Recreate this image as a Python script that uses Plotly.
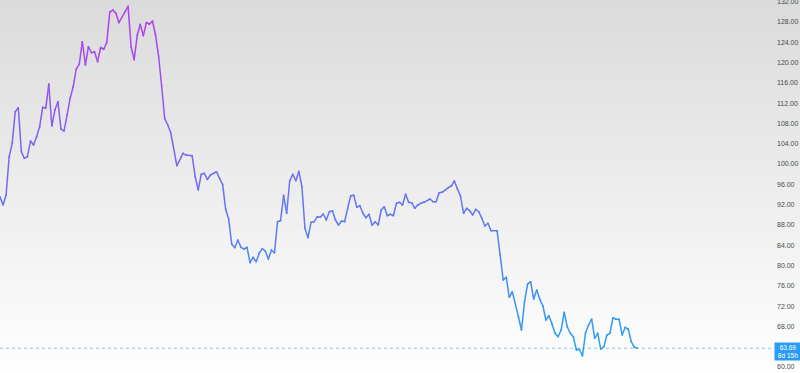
import plotly.graph_objects as go

# ---- data ----
day = [0, 1, 2, 3, 4, 5, 6, 7, 8, 9, 10, 11, 12, 13, 14, 15, 16, 17, 18, 19,
       20, 21, 22, 23, 24, 25, 26, 27, 28, 29, 30, 31, 32, 33, 34, 35, 36, 37, 38, 39,
       42, 43, 44, 45, 46, 47, 48, 49, 50, 51, 52, 53, 54, 55, 56, 58, 60, 61, 63, 64,
       65, 66, 67, 68, 69, 71, 72, 73, 74, 75, 76, 77, 78, 79, 80, 81, 82, 83, 84, 85,
       86, 87, 88, 89, 90, 91, 92, 93, 94, 95, 96, 97, 98, 99, 100, 101, 102, 103, 104, 105,
       106, 107, 108, 109, 110, 111, 112, 113, 114, 115, 116, 117, 118, 119, 120, 121, 122, 123, 124, 125,
       126, 127, 128, 129, 130, 131, 132, 133, 134, 135, 136, 137, 138, 139, 141, 142, 143, 144, 145, 147,
       148, 149, 150, 151, 152, 153, 154, 155, 156, 157, 158, 159, 160, 161, 163, 164, 165, 166, 167, 168,
       170, 171, 172, 173, 174, 175, 176, 177, 178, 179, 180, 181, 182, 183, 184, 185, 186, 187, 188, 189,
       190, 191, 192, 193, 194, 195, 196, 197, 198, 199, 200, 201, 202, 203, 204, 205, 206, 207, 208, 209]

close = [93.56, 91.92, 93.89, 101.44, 104.08, 110.31, 111.09, 102.42, 101.12, 101.44,
         104.53, 103.74, 105.38, 107.35, 111.17, 110.98, 115.76, 107.49, 110.64, 112.28,
         106.90, 106.50, 109.66, 112.95, 115.23, 118.72, 119.70, 124.10, 119.51, 123.11,
         121.93, 122.13, 120.16, 122.96, 122.60, 123.94, 129.95, 130.34, 129.69, 127.84,
         131.07, 123.05, 120.55, 125.36, 127.53, 125.26, 127.88, 127.55, 128.18, 125.42,
         121.28, 115.37, 109.00, 107.68, 106.15, 99.66, 102.11, 101.77, 101.64, 97.50,
         94.88, 97.99, 98.17, 96.95, 97.83, 98.48, 97.18, 96.00, 91.07, 89.10,
         84.18, 83.51, 85.02, 83.59, 83.25, 83.59, 80.55, 81.62, 80.75, 82.40,
         83.31, 82.86, 81.28, 83.05, 82.52, 88.63, 88.83, 93.83, 90.29, 96.71,
         97.97, 96.71, 98.56, 95.53, 87.33, 85.48, 88.51, 88.63, 89.60, 89.50,
         90.15, 88.97, 90.60, 90.80, 88.97, 87.98, 88.77, 88.63, 91.27, 93.75,
         93.83, 91.47, 91.78, 90.29, 89.42, 90.09, 87.92, 88.63, 87.98, 90.94,
         91.59, 89.81, 90.09, 89.81, 92.26, 92.45, 91.92, 94.03, 92.45, 92.37,
         91.27, 91.92, 92.26, 92.45, 93.10, 92.57, 92.57, 94.34, 94.42, 95.33,
         95.67, 96.65, 95.07, 93.69, 90.29, 91.27, 90.80, 89.95, 91.07, 90.60,
         89.30, 87.78, 88.32, 86.86, 86.86, 82.07, 77.14, 77.67, 73.73, 74.84,
         69.91, 67.29, 72.87, 76.35, 76.81, 73.40, 75.17, 73.34, 72.08, 69.26,
         70.11, 68.47, 66.64, 65.97, 67.29, 70.78, 67.94, 66.64, 65.97, 63.35,
         63.49, 62.17, 66.76, 68.28, 69.46, 65.66, 66.64, 63.49, 64.00, 66.31,
         66.64, 69.71, 69.40, 69.40, 66.31, 67.82, 67.49, 64.99, 63.88, 63.69]

# 64.00 sits behind the last-price label in the reference, so it is not shown
price_ticks = [60, 68, 72, 76, 80, 84, 88, 92, 96, 100, 104, 108, 112, 116, 120, 124, 128, 132]
countdown = "8d 15h"

# ---- style ----
W, H = 800, 373
MR = 26
X_RANGE = [0, 253.8]
Y_RANGE = [58.818, 132.32]
TOP_RGB = (182, 60, 240)
BOT_RGB = (38, 162, 242)
BG_TOP = 219
BG_BOT = 254
FONT = "Liberation Sans, Arial, sans-serif"


def lerp_rgb(a, b, t):
    return "rgb(%d,%d,%d)" % tuple(round(a[i] + (b[i] - a[i]) * t) for i in range(3))


vmin, vmax = min(close), max(close)

fig = go.Figure()

# gradient line: one short trace per segment, coloured by its height
for i in range(len(close) - 1):
    mid = (close[i] + close[i + 1]) / 2
    t = (mid - vmin) / (vmax - vmin)
    col = lerp_rgb(BOT_RGB, TOP_RGB, t)
    fig.add_trace(go.Scatter(
        x=day[i:i + 2], y=close[i:i + 2], mode="lines+markers",
        line=dict(color=col, width=1.5),
        marker=dict(color=col, size=1.5),
        hoverinfo="skip", showlegend=False,
    ))

# background vertical gradient (bands)
shapes = []
NB = 60
for k in range(NB):
    t = k / (NB - 1)
    g = round(BG_TOP + (BG_BOT - BG_TOP) * t)
    shapes.append(dict(
        type="rect", xref="paper", yref="paper",
        x0=0, x1=W / (W - MR) + 0.01,
        y0=1 - (k + 1) / NB, y1=1 - k / NB + 0.002,
        fillcolor="rgb(%d,%d,%d)" % (g, g, g), line=dict(width=0), layer="below",
    ))

# last price line
last = close[-1]
shapes.append(dict(
    type="line", xref="paper", yref="y", x0=0, x1=1, y0=last, y1=last,
    line=dict(color="rgba(41,152,242,0.55)", width=1, dash="dot"), layer="above",
))

fig.update_layout(
    width=W, height=H,
    margin=dict(l=0, r=MR, t=0, b=0, pad=0),
    paper_bgcolor="white", plot_bgcolor="rgba(0,0,0,0)",
    shapes=shapes,
    showlegend=False,
    xaxis=dict(range=X_RANGE, showgrid=False, zeroline=False, showline=False,
               showticklabels=False, ticks="", fixedrange=True),
    yaxis=dict(range=Y_RANGE, side="right", showgrid=False, zeroline=False,
               showline=False, ticks="", automargin=False,
               tickvals=price_ticks, ticktext=["%.2f" % v for v in price_ticks],
               tickfont=dict(family=FONT, size=7, color="#4a4a4a"),
               ticklabelstandoff=2, ticklabeloverflow="allow"),
    annotations=[dict(
        xref="paper", yref="y", x=1, y=last, xanchor="left", yanchor="middle",
        text="%.2f<br>%s" % (last, countdown), showarrow=False,
        bgcolor="#2b9cf2", font=dict(family=FONT, size=6.5, color="white"),
        borderpad=1, width=24, align="center", yshift=-3,
    )],
)

fig.write_html("out.html")
